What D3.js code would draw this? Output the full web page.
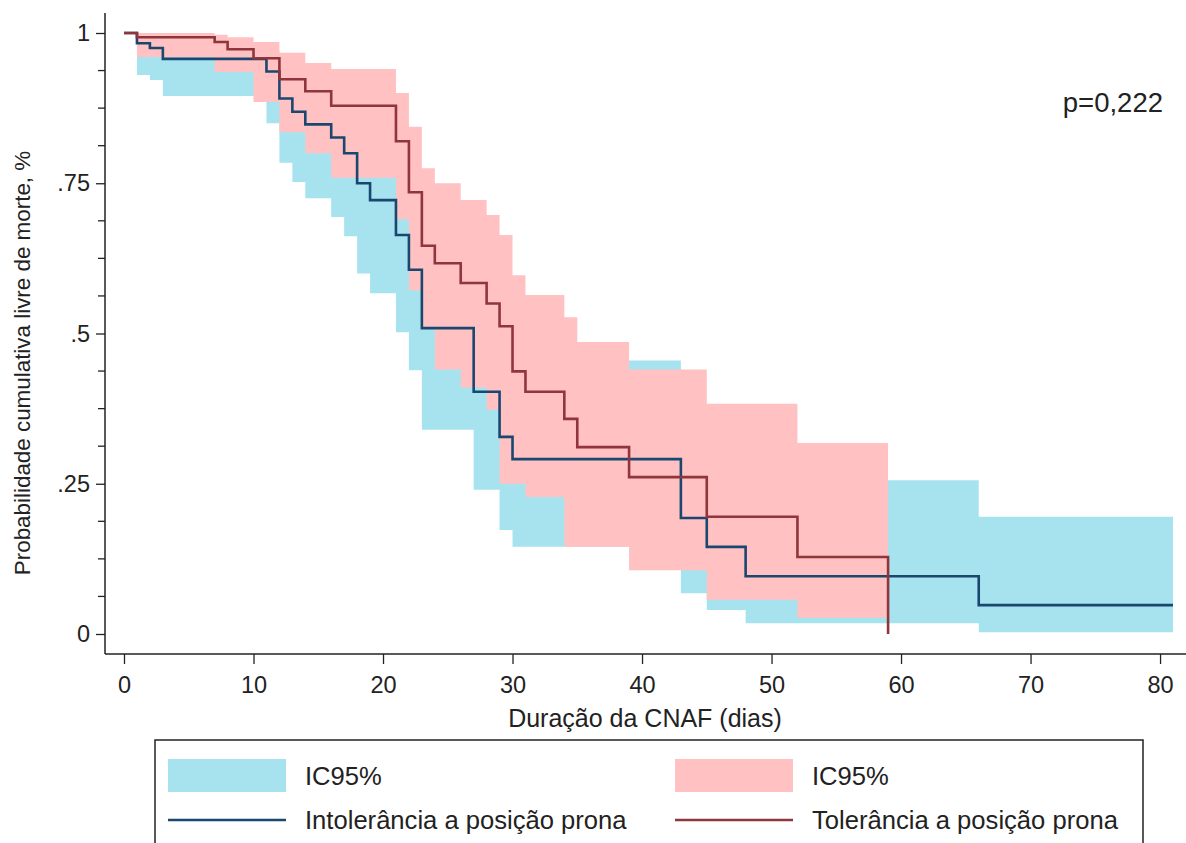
<!DOCTYPE html>
<html>
<head>
<meta charset="utf-8">
<script src="https://cdn.jsdelivr.net/npm/d3@7"></script>
<style>
  body { margin: 0; background: #fff; }
  svg text { font-family: 'Liberation Sans', Arial, sans-serif; fill: #222; }
</style>
</head>
<body>
<svg id="chart" width="1186" height="843"></svg>
<script>
// Intolerância a posição prona (navy)
const intolTimes = [0, 1, 2, 3, 11, 12, 13, 14, 16, 17, 18, 19, 21, 22, 23, 27, 29, 30, 43, 45, 48, 66]
const intolSurv = [1, 0.983, 0.975, 0.957, 0.936, 0.891, 0.869, 0.848, 0.826, 0.80, 0.75, 0.722, 0.664, 0.606, 0.509, 0.403, 0.328, 0.291, 0.193, 0.145, 0.096, 0.048]
const intolLow = [1, 0.93, 0.922, 0.895, 0.85, 0.784, 0.752, 0.725, 0.694, 0.662, 0.60, 0.567, 0.502, 0.439, 0.34, 0.24, 0.173, 0.145, 0.068, 0.04, 0.018, 0.003]
const intolHigh = [1, 0.995, 0.995, 0.985, 0.97, 0.95, 0.94, 0.93, 0.91, 0.89, 0.85, 0.83, 0.78, 0.73, 0.64, 0.54, 0.47, 0.455, 0.38, 0.32, 0.256, 0.195]
const intolEnd = 81

// Tolerância a posição prona (maroon)
const tolTimes = [0, 1, 7, 8, 10, 12, 14, 16, 21, 22, 23, 24, 26, 28, 29, 30, 31, 34, 35, 39, 45, 52, 59]
const tolSurv = [1, 0.993, 0.985, 0.973, 0.958, 0.923, 0.903, 0.879, 0.82, 0.735, 0.646, 0.617, 0.584, 0.55, 0.512, 0.437, 0.403, 0.358, 0.311, 0.261, 0.195, 0.128, 0]
const tolLow = [1, 0.96, 0.935, 0.935, 0.885, 0.835, 0.80, 0.759, 0.69, 0.572, 0.51, 0.44, 0.41, 0.373, 0.25, 0.25, 0.228, 0.145, 0.145, 0.106, 0.057, 0.027, 0.027]
const tolHigh = [1, 1, 0.997, 0.993, 0.985, 0.967, 0.95, 0.94, 0.90, 0.844, 0.775, 0.75, 0.722, 0.697, 0.664, 0.597, 0.564, 0.527, 0.486, 0.44, 0.383, 0.318, 0.318]
const tolEnd = 59

const xTicks = [0, 10, 20, 30, 40, 50, 60, 70, 80]
const yTicks = [0, 0.25, 0.5, 0.75, 1]
const yLabels = ['0', '.25', '.5', '.75', '1']
const legendLabels = ['IC95%', 'IC95%', 'Intolerância a posição prona', 'Tolerância a posição prona']
const pText = 'p=0,222'

const colors = {
  intolBand: '#a6e3ef',
  tolBand: '#ffc1c2',
  intolLine: '#1a476f',
  tolLine: '#90353b'
}

const svg = d3.select('#chart')

const x = d3.scaleLinear().domain([0, 81]).range([124, 1173])
const y = d3.scaleLinear().domain([0, 1]).range([634, 33])

const plotLeft = 105
const plotBottom = 654

function series (times, surv, low, high, end) {
  const pts = times.map((t, i) => ({ t, s: surv[i], lo: low[i], hi: high[i] }))
  if (end > times[times.length - 1]) {
    const last = pts[pts.length - 1]
    pts.push({ t: end, s: last.s, lo: last.lo, hi: last.hi })
  }
  return pts
}

const intol = series(intolTimes, intolSurv, intolLow, intolHigh, intolEnd)
const tol = series(tolTimes, tolSurv, tolLow, tolHigh, tolEnd)

const band = d3.area()
  .curve(d3.curveStepAfter)
  .x(d => x(d.t))
  .y0(d => y(d.lo))
  .y1(d => y(d.hi))

const line = d3.line()
  .curve(d3.curveStepAfter)
  .x(d => x(d.t))
  .y(d => y(d.s))

svg.append('path').datum(intol).attr('d', band).attr('fill', colors.intolBand)
svg.append('path').datum(tol).attr('d', band).attr('fill', colors.tolBand)

svg.append('path').datum(intol).attr('d', line)
  .attr('fill', 'none').attr('stroke', colors.intolLine).attr('stroke-width', 2.6)
svg.append('path').datum(tol).attr('d', line)
  .attr('fill', 'none').attr('stroke', colors.tolLine).attr('stroke-width', 2.6)

// axes
const xAxis = svg.append('g')
  .attr('transform', `translate(0,${plotBottom})`)
  .call(d3.axisBottom(x).tickValues(xTicks).tickSize(10).tickPadding(12).tickSizeOuter(0))
xAxis.select('.domain').remove()
xAxis.selectAll('text').attr('font-size', 23.5).style('font-family', null)
xAxis.selectAll('line').attr('stroke', '#222').attr('stroke-width', 1.3)

const yMinor = d3.range(0, 1.0001, 0.0625).filter(v => !yTicks.includes(v))
svg.append('g')
  .attr('transform', `translate(${plotLeft},0)`)
  .selectAll('line').data(yMinor).join('line')
  .attr('x1', -7).attr('x2', 0)
  .attr('y1', d => y(d)).attr('y2', d => y(d))
  .attr('stroke', '#222').attr('stroke-width', 1.3)

const yAxis = svg.append('g')
  .attr('transform', `translate(${plotLeft},0)`)
  .call(d3.axisLeft(y).tickValues(yTicks).tickFormat((d, i) => yLabels[i]).tickSize(9).tickPadding(6).tickSizeOuter(0))
yAxis.select('.domain').remove()
yAxis.selectAll('text').attr('font-size', 23.5).style('font-family', null)
yAxis.selectAll('line').attr('stroke', '#222').attr('stroke-width', 1.3)

svg.append('line')
  .attr('x1', plotLeft).attr('x2', plotLeft).attr('y1', 13).attr('y2', plotBottom)
  .attr('stroke', '#222').attr('stroke-width', 1.5)
svg.append('line')
  .attr('x1', plotLeft).attr('x2', 1186).attr('y1', plotBottom).attr('y2', plotBottom)
  .attr('stroke', '#222').attr('stroke-width', 1.5)

svg.append('text')
  .attr('x', 645).attr('y', 727)
  .attr('text-anchor', 'middle').attr('font-size', 25)
  .text('Duração da CNAF (dias)')

svg.append('text')
  .attr('transform', 'translate(30,363) rotate(-90)')
  .attr('text-anchor', 'middle').attr('font-size', 22.4)
  .text('Probabilidade cumulativa livre de morte, %')

svg.append('text')
  .attr('x', 1163).attr('y', 112)
  .attr('text-anchor', 'end').attr('font-size', 27.5)
  .text(pText)

// legend
const legend = svg.append('g')
legend.append('rect')
  .attr('x', 155).attr('y', 740).attr('width', 988).attr('height', 140)
  .attr('fill', '#fff').attr('stroke', '#222').attr('stroke-width', 1.5)

const legendItems = [
  { col: 0, row: 0, kind: 'band', color: colors.intolBand, label: legendLabels[0] },
  { col: 1, row: 0, kind: 'band', color: colors.tolBand, label: legendLabels[1] },
  { col: 0, row: 1, kind: 'line', color: colors.intolLine, label: legendLabels[2] },
  { col: 1, row: 1, kind: 'line', color: colors.tolLine, label: legendLabels[3] }
]
const colX = [168, 675]
const rowY = [776, 820]

legendItems.forEach(d => {
  const gx = colX[d.col]
  const gy = rowY[d.row]
  if (d.kind === 'band') {
    legend.append('rect').attr('x', gx).attr('y', gy - 17).attr('width', 118).attr('height', 33).attr('fill', d.color)
  } else {
    legend.append('line').attr('x1', gx).attr('x2', gx + 118).attr('y1', gy).attr('y2', gy)
      .attr('stroke', d.color).attr('stroke-width', 2.6)
  }
  legend.append('text').attr('x', gx + 137).attr('y', gy + 9).attr('font-size', 25.6).text(d.label)
})
</script>
</body>
</html>
